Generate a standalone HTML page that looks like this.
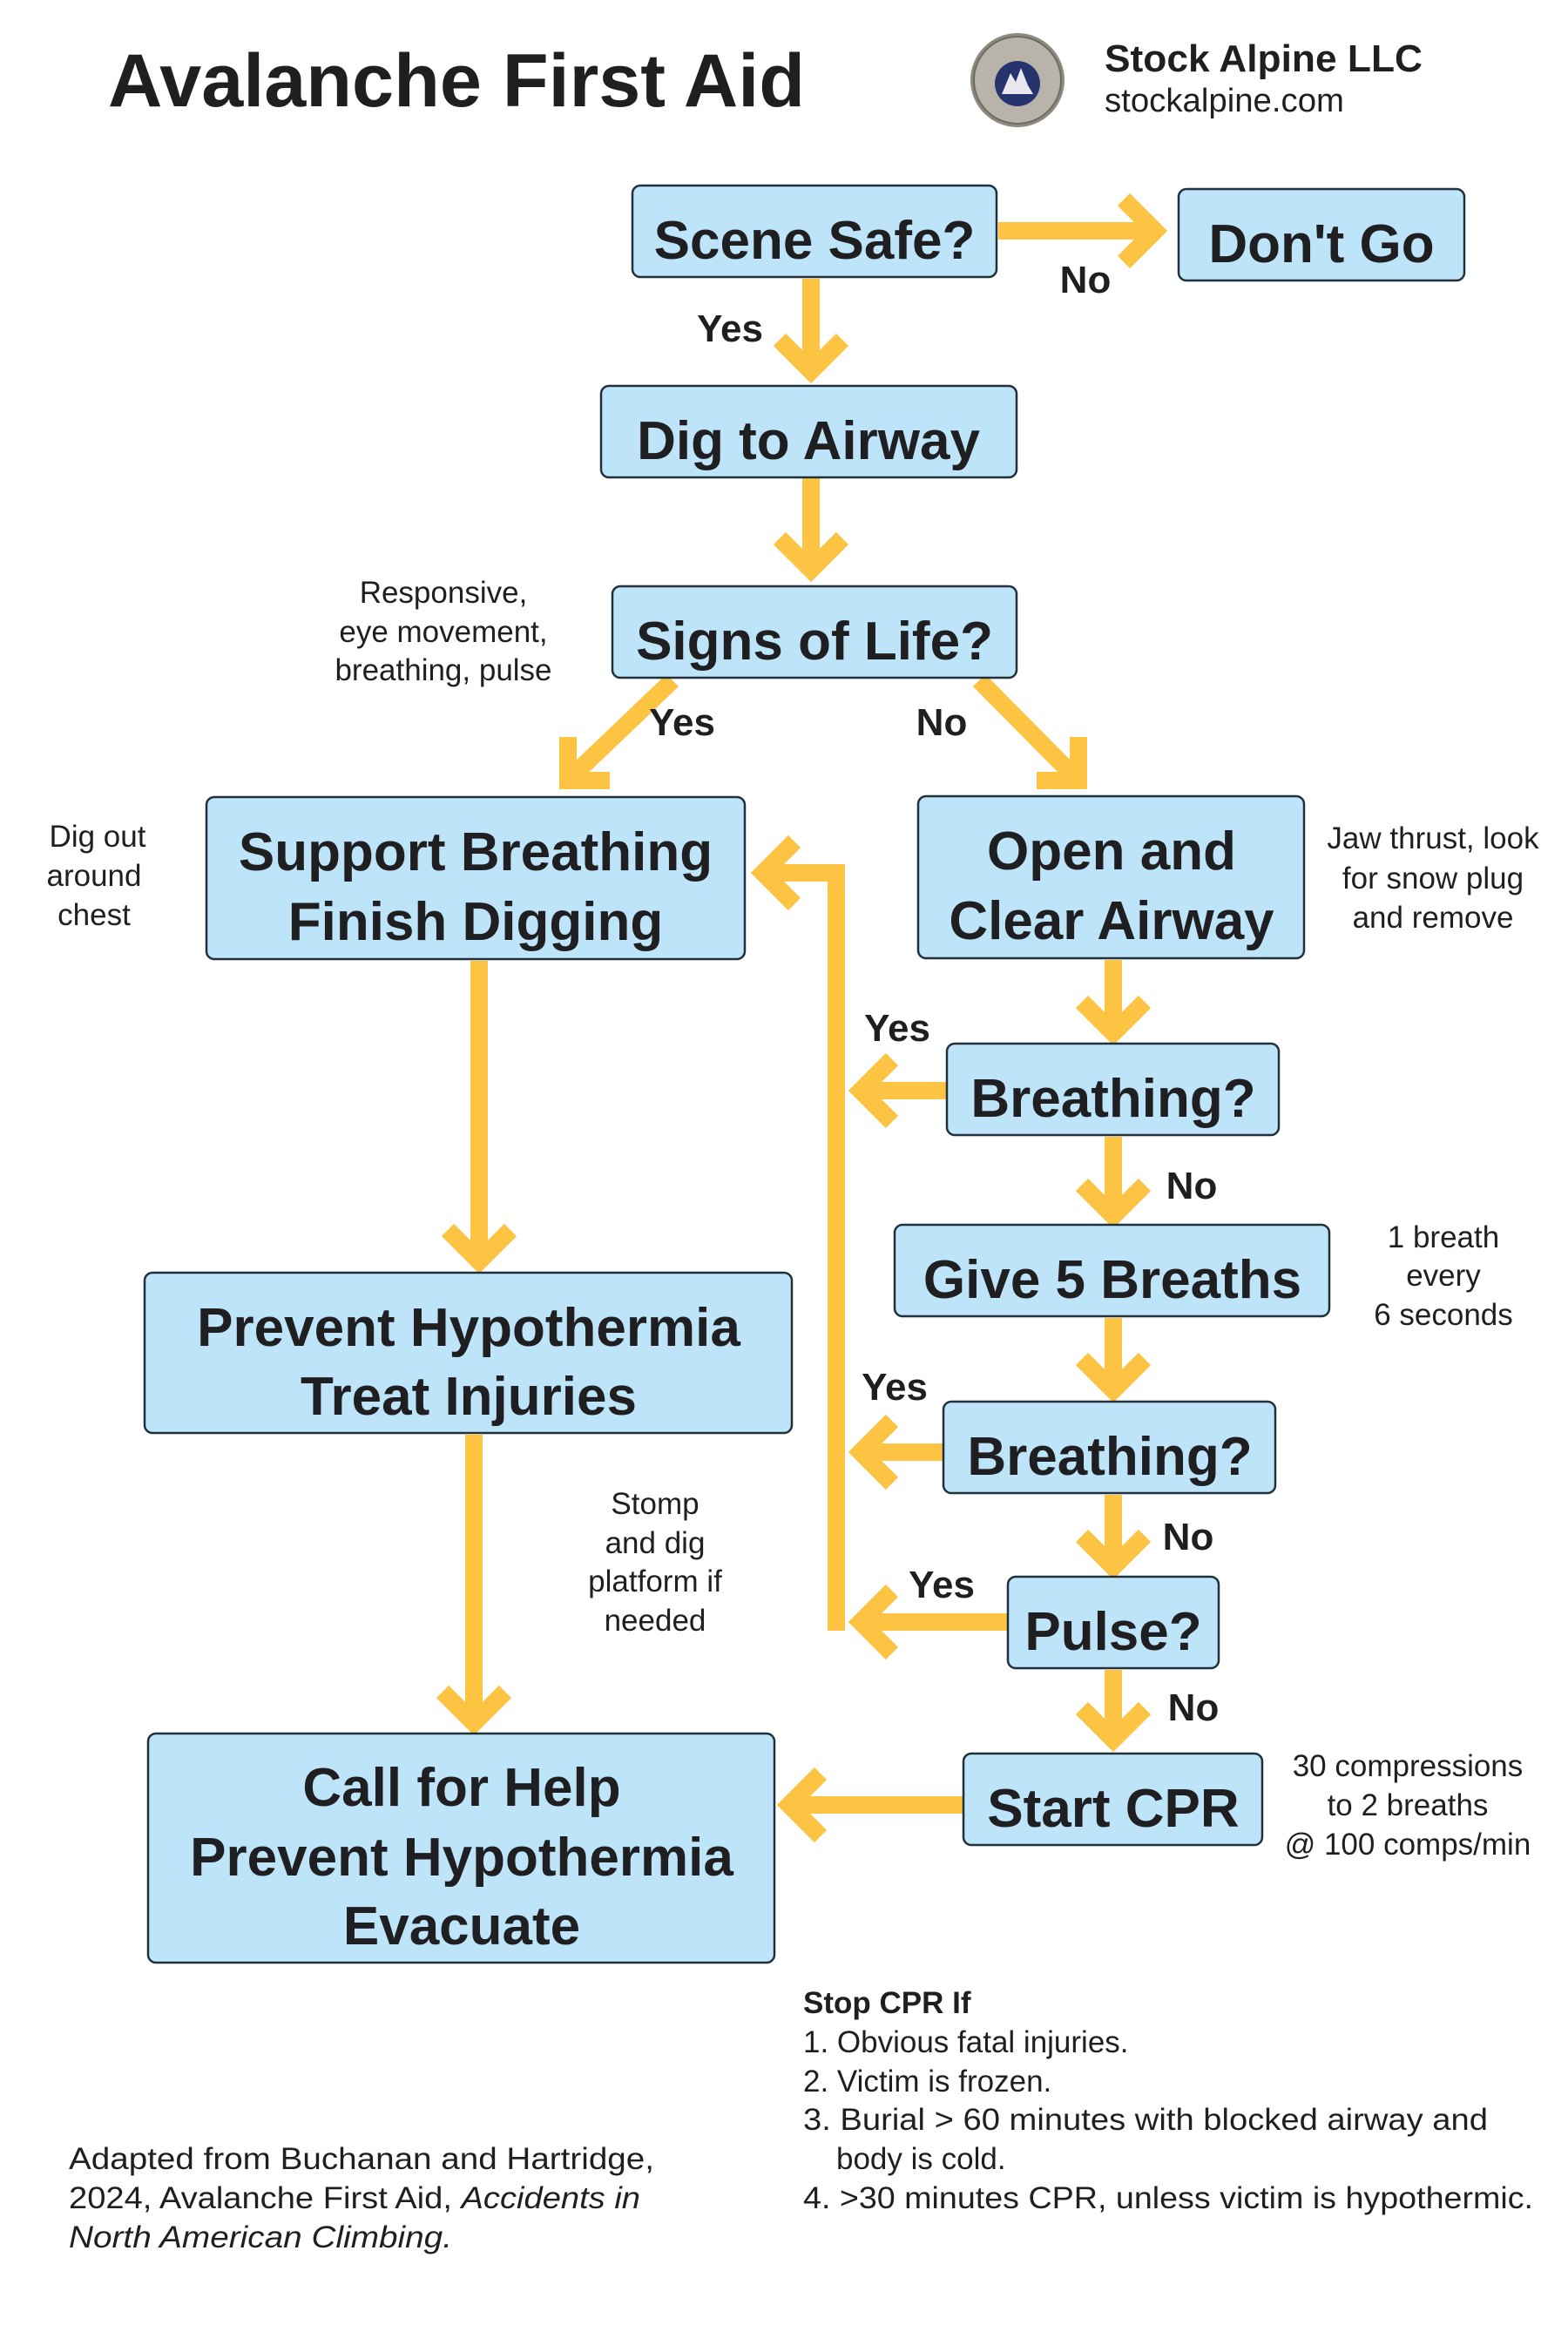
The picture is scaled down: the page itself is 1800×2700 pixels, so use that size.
<!DOCTYPE html>
<html><head><meta charset="utf-8"><style>
html,body{margin:0;padding:0;background:#fff;}
svg{display:block;}
.bx{fill:#bde4f8;stroke:#22303c;stroke-width:2.5;}
.bt{font-family:"Liberation Sans",sans-serif;font-weight:bold;font-size:62px;fill:#1f1f22;text-anchor:middle;}
.lb{font-family:"Liberation Sans",sans-serif;font-weight:bold;font-size:44px;fill:#1f1f22;text-anchor:middle;}
.nt{font-family:"Liberation Sans",sans-serif;font-size:35px;fill:#1f1f22;text-anchor:middle;}
.tx{font-family:"Liberation Sans",sans-serif;font-size:35px;fill:#1f1f22;}
.ar{fill:none;stroke:#fdc443;stroke-width:20;stroke-linejoin:miter;stroke-linecap:butt;}
</style></head><body>
<svg width="1800" height="2700" viewBox="0 0 1800 2700" xmlns="http://www.w3.org/2000/svg">
<rect width="1800" height="2700" fill="#fff"/>
<text x="124" y="122" font-family="Liberation Sans,sans-serif" font-weight="bold" font-size="86" fill="#1f1f22" textLength="800" lengthAdjust="spacingAndGlyphs">Avalanche First Aid</text>
<circle cx="1168" cy="92" r="54" fill="#8f8a80"/>
<circle cx="1168" cy="92" r="50" fill="#b9b4aa" stroke="#6f6a62" stroke-width="2"/>
<circle cx="1168" cy="96" r="26" fill="#24356e"/>
<polygon points="1150,108 1160,84 1166,94 1172,78 1180,98 1186,108" fill="#e8e8ee"/>
<text x="1268" y="82" font-family="Liberation Sans,sans-serif" font-weight="bold" font-size="44" fill="#1f1f22" textLength="365" lengthAdjust="spacingAndGlyphs">Stock Alpine LLC</text>
<text x="1268" y="128" font-family="Liberation Sans,sans-serif" font-size="38" fill="#1f1f22" textLength="275" lengthAdjust="spacingAndGlyphs">stockalpine.com</text>

<line class="ar" x1="1146" y1="265" x2="1325" y2="265"/>
<polyline class="ar" points="1290,229 1326,265 1290,301"/>
<line class="ar" x1="931" y1="320" x2="931" y2="415"/>
<polyline class="ar" points="895,390 931,426 967,390"/>
<line class="ar" x1="931" y1="549" x2="931" y2="643"/>
<polyline class="ar" points="895,618 931,654 967,618"/>
<line class="ar" x1="772" y1="781" x2="660" y2="888"/>
<polyline class="ar" points="652,846 652,896 700,896"/>
<line class="ar" x1="1124" y1="781" x2="1230" y2="888"/>
<polyline class="ar" points="1190,896 1238,896 1238,846"/>
<line class="ar" x1="1278" y1="1102" x2="1278" y2="1175"/>
<polyline class="ar" points="1242,1150 1278,1186 1314,1150"/>
<line class="ar" x1="1278" y1="1305" x2="1278" y2="1385"/>
<polyline class="ar" points="1242,1360 1278,1396 1314,1360"/>
<line class="ar" x1="1278" y1="1513" x2="1278" y2="1585"/>
<polyline class="ar" points="1242,1560 1278,1596 1314,1560"/>
<line class="ar" x1="1278" y1="1716" x2="1278" y2="1788"/>
<polyline class="ar" points="1242,1763 1278,1799 1314,1763"/>
<line class="ar" x1="1278" y1="1917" x2="1278" y2="1986"/>
<polyline class="ar" points="1242,1961 1278,1997 1314,1961"/>
<polyline class="ar" points="960,1872 960,1002 878,1002"/>
<polyline class="ar" points="912,966 876,1002 912,1038"/>
<line class="ar" x1="1088" y1="1252" x2="985" y2="1252"/>
<polyline class="ar" points="1024,1216 988,1252 1024,1288"/>
<line class="ar" x1="1084" y1="1667" x2="985" y2="1667"/>
<polyline class="ar" points="1024,1631 988,1667 1024,1703"/>
<line class="ar" x1="1158" y1="1862" x2="985" y2="1862"/>
<polyline class="ar" points="1024,1826 988,1862 1024,1898"/>
<line class="ar" x1="1107" y1="2072" x2="905" y2="2072"/>
<polyline class="ar" points="942,2036 906,2072 942,2108"/>
<line class="ar" x1="550" y1="1103" x2="550" y2="1437"/>
<polyline class="ar" points="514,1412 550,1448 586,1412"/>
<line class="ar" x1="544" y1="1647" x2="544" y2="1967"/>
<polyline class="ar" points="508,1942 544,1978 580,1942"/>

<rect class="bx" x="726" y="213" width="418" height="105" rx="9"/>
<text class="bt" x="935" y="297">Scene Safe?</text>
<rect class="bx" x="1353" y="217" width="328" height="105" rx="9"/>
<text class="bt" x="1517" y="301">Don't Go</text>
<rect class="bx" x="690" y="443" width="477" height="105" rx="9"/>
<text class="bt" x="928" y="527">Dig to Airway</text>
<rect class="bx" x="703" y="673" width="464" height="105" rx="9"/>
<text class="bt" x="935" y="757">Signs of Life?</text>
<rect class="bx" x="237" y="915" width="618" height="186" rx="9"/>
<text class="bt" x="546" y="999">Support Breathing</text>
<text class="bt" x="546" y="1079">Finish Digging</text>
<rect class="bx" x="1054" y="914" width="443" height="186" rx="9"/>
<text class="bt" x="1276" y="998">Open and</text>
<text class="bt" x="1276" y="1078">Clear Airway</text>
<rect class="bx" x="1087" y="1198" width="381" height="105" rx="9"/>
<text class="bt" x="1278" y="1282">Breathing?</text>
<rect class="bx" x="1027" y="1406" width="499" height="105" rx="9"/>
<text class="bt" x="1277" y="1490">Give 5 Breaths</text>
<rect class="bx" x="166" y="1461" width="743" height="184" rx="9"/>
<text class="bt" x="538" y="1545">Prevent Hypothermia</text>
<text class="bt" x="538" y="1624">Treat Injuries</text>
<rect class="bx" x="1083" y="1609" width="381" height="105" rx="9"/>
<text class="bt" x="1274" y="1693">Breathing?</text>
<rect class="bx" x="1157" y="1810" width="242" height="105" rx="9"/>
<text class="bt" x="1278" y="1894">Pulse?</text>
<rect class="bx" x="1106" y="2013" width="343" height="105" rx="9"/>
<text class="bt" x="1278" y="2097">Start CPR</text>
<rect class="bx" x="170" y="1990" width="719" height="263" rx="9"/>
<text class="bt" x="530" y="2073">Call for Help</text>
<text class="bt" x="530" y="2153">Prevent Hypothermia</text>
<text class="bt" x="530" y="2232">Evacuate</text>

<text class="lb" x="1246" y="336">No</text>
<text class="lb" x="838" y="392">Yes</text>
<text class="lb" x="783" y="844">Yes</text>
<text class="lb" x="1081" y="844">No</text>
<text class="lb" x="1030" y="1195">Yes</text>
<text class="lb" x="1368" y="1376">No</text>
<text class="lb" x="1027" y="1607">Yes</text>
<text class="lb" x="1364" y="1779">No</text>
<text class="lb" x="1081" y="1834">Yes</text>
<text class="lb" x="1370" y="1975">No</text>

<text class="nt" x="509" y="692">Responsive,</text>
<text class="nt" x="509" y="737">eye movement,</text>
<text class="nt" x="509" y="781">breathing, pulse</text>
<text class="nt" x="112" y="972">Dig out</text>
<text class="nt" x="108" y="1017">around</text>
<text class="nt" x="108" y="1062">chest</text>
<text class="nt" x="1645" y="974">Jaw thrust, look</text>
<text class="nt" x="1645" y="1020">for snow plug</text>
<text class="nt" x="1645" y="1065">and remove</text>
<text class="nt" x="1657" y="1432">1 breath</text>
<text class="nt" x="1657" y="1476">every</text>
<text class="nt" x="1657" y="1521">6 seconds</text>
<text class="nt" x="752" y="1738">Stomp</text>
<text class="nt" x="752" y="1783">and dig</text>
<text class="nt" x="752" y="1827">platform if</text>
<text class="nt" x="752" y="1872">needed</text>
<text class="nt" x="1616" y="2039">30 compressions</text>
<text class="nt" x="1616" y="2084">to 2 breaths</text>
<text class="nt" x="1616" y="2129">@ 100 comps/min</text>

<text class="tx" x="922" y="2311" font-weight="bold">Stop CPR If</text>
<text class="tx" x="922" y="2356">1. Obvious fatal injuries.</text>
<text class="tx" x="922" y="2401">2. Victim is frozen.</text>
<text class="tx" x="922" y="2445" textLength="786" lengthAdjust="spacingAndGlyphs">3. Burial &gt; 60 minutes with blocked airway and</text>
<text class="tx" x="960" y="2490">body is cold.</text>
<text class="tx" x="922" y="2535" textLength="838" lengthAdjust="spacingAndGlyphs">4. &gt;30 minutes CPR, unless victim is hypothermic.</text>

<text class="tx" x="79" y="2490" textLength="672" lengthAdjust="spacingAndGlyphs">Adapted from Buchanan and Hartridge,</text>
<text class="tx" x="79" y="2535" textLength="656" lengthAdjust="spacingAndGlyphs">2024, Avalanche First Aid, <tspan font-style="italic">Accidents in</tspan></text>
<text class="tx" x="79" y="2580" font-style="italic" textLength="440" lengthAdjust="spacingAndGlyphs">North American Climbing.</text>
</svg>
</body></html>
